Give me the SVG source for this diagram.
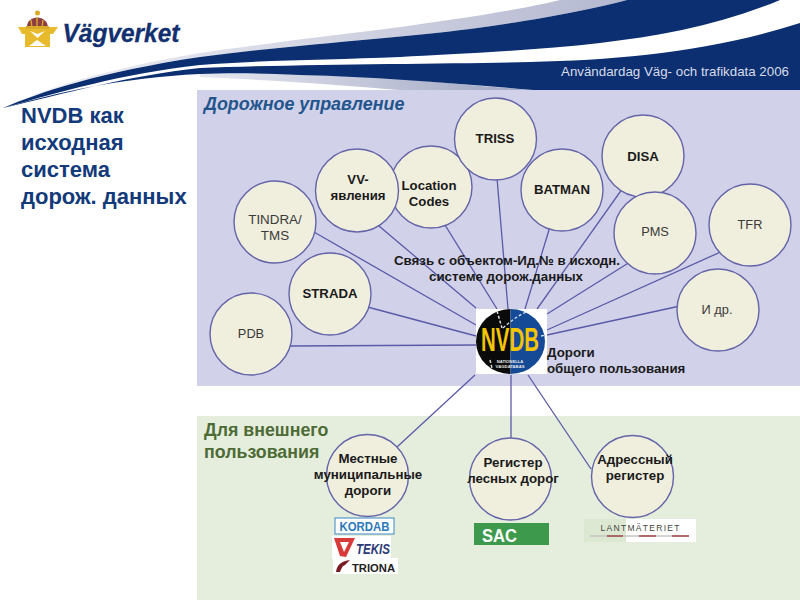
<svg xmlns="http://www.w3.org/2000/svg" width="800" height="600" viewBox="0 0 800 600">
<style>
text{font-family:"Liberation Sans",Arial,sans-serif;text-anchor:middle}
.c{fill:#f0eedd;stroke:#6464a8;stroke-width:1.4}
.e{fill:none;stroke:#5a5aa8;stroke-width:1.3}
.b{font-size:13.2px;font-weight:bold;fill:#1a1a1a}
.n{font-size:12.8px;fill:#3a3a3a}
.s{font-size:13.3px;font-weight:bold;fill:#1a1a1a}
.l{text-anchor:start}
.d{fill:#0b2f70}
</style>
<defs>
<linearGradient id="lb" x1="0" y1="0" x2="1" y2="0"><stop offset="0" stop-color="#f0f1f6"/><stop offset=".5" stop-color="#d4d6e4"/><stop offset="1" stop-color="#b4b8d0"/></linearGradient>
<linearGradient id="sh" x1="0" y1="0" x2="1" y2="0"><stop offset="0" stop-color="#e6e8f0"/><stop offset="1" stop-color="#9ea4c2"/></linearGradient>
</defs>
<rect width="800" height="600" fill="#fff"/>
<g id="banner">
<path d="M3 108C40 90 100 70 200 53C260 44 330 36 400 27C450 20 520 10 560 0H627C590 10 530 21 470 29C400 38 300 44 200 57C100 72 40 92 3 108Z" fill="url(#lb)"/>
<path class="d" d="M3 108C40 92 100 72 200 57C300 44 400 38 470 29C530 21 590 10 627 0H780C720 25 660 36 600 43C530 51 450 54 400 57C330 60 260 60 200 65C120 74 60 92 3 108Z"/>
<path d="M200 74C260 72 300 75 380 77C450 83 500 88 533 90H400C340 85 270 80 200 77Z" fill="url(#sh)"/>
<path class="d" d="M3 108C60 95 130 75 200 68C300 64 450 64 530 62C620 60 710 52 800 23V90H533C450 83 380 77 300 75C260 73 230 73 200 74C120 78 60 92 3 108Z"/>
<text x="675" y="76" style="font-size:13px;fill:#d8dcea" textLength="228" lengthAdjust="spacingAndGlyphs">Användardag Väg- och trafikdata 2006</text>
</g>
<rect x="197" y="90" width="603" height="296" fill="#d1d1e9"/>
<rect x="197" y="416" width="603" height="184" fill="#e5eedd"/>
<g id="logo">
<path d="M18 27H58L53 34H50V47H25V34H22Z" fill="#e8bb2e"/>
<path d="M27 28C26 14 48 14 48 28Z" fill="#8c3c42"/>
<path d="M37 17V28M31 20L32 28M43 20L42 28" stroke="#d8aa28" stroke-width="1.4" fill="none"/>
<circle cx="37.500" cy="13" r="2.500" fill="#d8aa28"/>
<rect x="26" y="26" width="23" height="3" fill="#d8aa28"/>
<path d="M29 46L37 40L46 46Z" fill="#fff"/>
<path d="M30 31L37.500 38L45 31L37.500 34Z" fill="#fff"/>
<text x="121" y="42" style="font-size:25px;font-weight:bold;font-style:italic;fill:#12306f;stroke:#12306f;stroke-width:.3" textLength="117" lengthAdjust="spacingAndGlyphs">Vägverket</text>
</g>
<g id="connectors" class="e">
<line x1="290" y1="346" x2="476" y2="345"/>
<line x1="360" y1="305" x2="476" y2="336"/>
<line x1="300" y1="224" x2="476" y2="325"/>
<line x1="379" y1="226" x2="476" y2="308"/>
<line x1="445" y1="225" x2="497" y2="309"/>
<line x1="497" y1="178" x2="508" y2="309"/>
<line x1="552" y1="220" x2="525" y2="309"/>
<line x1="625" y1="185" x2="537" y2="309"/>
<line x1="630" y1="262" x2="547" y2="314"/>
<line x1="725" y1="250" x2="547" y2="330"/>
<line x1="680" y1="306" x2="547" y2="335"/>
<line x1="475" y1="375" x2="397" y2="447"/>
<line x1="511" y1="375" x2="511" y2="440"/>
<line x1="528" y1="375" x2="591" y2="469"/>
</g>
<g id="tindra"><circle class="c" cx="275" cy="222" r="41"/><text class="n" x="275" y="224" style="font-size:13.4px">TINDRA/</text><text class="n" x="275" y="240" style="font-size:13.4px">TMS</text></g>
<g id="pdb"><circle class="c" cx="251" cy="334" r="41"/><text class="n" x="251" y="338">PDB</text></g>
<g id="strada"><circle class="c" cx="330" cy="294" r="41"/><text class="b" x="330" y="298">STRADA</text></g>
<g id="location"><circle class="c" cx="431" cy="187" r="41"/><text class="b" x="429" y="190">Location</text><text class="b" x="429" y="206">Codes</text></g>
<g id="vv"><circle class="c" cx="357" cy="190.500" r="41.500"/><text class="b" x="358" y="184">VV-</text><text class="b" x="358" y="200">явления</text></g>
<g id="triss"><circle class="c" cx="495.500" cy="139" r="41"/><text class="b" x="495" y="143">TRISS</text></g>
<g id="batman"><circle class="c" cx="562" cy="190" r="41"/><text class="b" x="562" y="194">BATMAN</text></g>
<g id="disa"><circle class="c" cx="643" cy="156" r="41"/><text class="b" x="643" y="161">DISA</text></g>
<g id="pms"><circle class="c" cx="655" cy="233" r="41"/><text class="n" x="655" y="236">PMS</text></g>
<g id="tfr"><circle class="c" cx="750" cy="225" r="41"/><text class="n" x="750" y="229">TFR</text></g>
<g id="other"><circle class="c" cx="718" cy="310" r="41"/><text class="n" x="717" y="314">И др.</text></g>
<g id="nvdb">
<rect x="476" y="309" width="71" height="65" fill="#fff"/>
<path d="M510.500 309A34.500 32.500 0 0 0 510.500 374Z" fill="#0a0a0a"/>
<path d="M510.500 309A34.500 32.500 0 0 1 510.500 374Z" fill="#144a96"/>
<path d="M497 311L502 328M490 360L492 368" stroke="#ddd" stroke-width="1.500" stroke-dasharray="3 2" fill="none"/>
<path d="M503 328C510 322 517 316 526 312M541 336L545 335" stroke="#cfe0f0" stroke-width="1.300" stroke-dasharray="3 2" fill="none"/>
<text transform="translate(510,351) scale(.85,1.35)" x="0" y="0" style="font-size:24px;font-weight:bold;fill:#f5c400">NVDB</text>
<text x="510" y="363" style="font-size:4.200px;font-weight:bold;fill:#e8e8e8">NATIONELLA</text>
<text x="510" y="368" style="font-size:4.200px;font-weight:bold;fill:#e8e8e8">VÄGDATABAS</text>
</g>
<text class="s" x="507" y="265">Связь с объектом-Ид.№ в исходн.</text>
<text class="s" x="506" y="281">системе дорож.данных</text>
<text class="s l" x="547" y="357">Дороги</text>
<text class="s l" x="547" y="373">общего пользования</text>
<text class="l" x="204" y="110" style="font-size:17.900px;font-weight:bold;font-style:italic;fill:#22558c">Дорожное управление</text>
<text class="l" x="204" y="436" style="font-size:17.800px;font-weight:bold;fill:#4d6b35">Для внешнего</text>
<text class="l" x="204" y="458" style="font-size:17.800px;font-weight:bold;fill:#4d6b35">пользования</text>
<g style="font-size:22px;font-weight:bold;fill:#133a7a"><text class="l" x="21" y="123">NVDB как</text><text class="l" x="21" y="150">исходная</text><text class="l" x="21" y="177">система</text><text class="l" x="21" y="204">дорож. данных</text></g>
<g id="local"><circle class="c" cx="367.500" cy="475.500" r="41"/><text class="s" x="368" y="463">Местные</text><text class="s" x="368" y="479">муниципальные</text><text class="s" x="368" y="495">дороги</text></g>
<g id="forest"><circle class="c" cx="510.500" cy="479" r="41"/><text class="s" x="513" y="467">Регистер</text><text class="s" x="513" y="483">лесных дорог</text></g>
<g id="address"><circle class="c" cx="632.500" cy="476.500" r="41"/><text class="s" x="635" y="464">Адрессный</text><text class="s" x="635" y="480">регистер</text></g>
<g id="logos">
<rect x="335" y="518" width="59" height="16" fill="#fff" stroke="#3a86c4" stroke-width="1"/>
<text x="364.500" y="530.500" style="font-size:12px;font-weight:bold;fill:#2a78b8" textLength="50" lengthAdjust="spacingAndGlyphs">KORDAB</text>
<rect x="332" y="536" width="59" height="23" fill="#fff"/>
<path d="M334 538H355L346 557L340 556Z" fill="#d83a3a"/>
<path d="M340 542H349L344 552Z" fill="#fff"/>
<text x="373" y="554" style="font-size:14px;font-weight:bold;font-style:italic;fill:#2c3a76" textLength="34" lengthAdjust="spacingAndGlyphs">TEKIS</text>
<rect x="333" y="558" width="65" height="16" fill="#fff"/>
<path d="M336 572C337 564 342 561 350 560L345 565C342 566 342 568 340 572Z" fill="#7a1a22"/>
<text x="373.500" y="572" style="font-size:10.500px;font-weight:bold;fill:#222" textLength="43" lengthAdjust="spacingAndGlyphs">TRIONA</text>
<rect x="474" y="523" width="75" height="22" fill="#3d9a4c"/>
<text x="499.500" y="542" style="font-size:18px;font-weight:bold;fill:#fff" textLength="35" lengthAdjust="spacingAndGlyphs">SAC</text>
<rect x="584" y="519" width="112" height="23" fill="#fff"/>
<rect x="584" y="519" width="42" height="23" fill="#dde8d2"/>
<text x="640" y="531" style="font-size:8.500px;fill:#444" textLength="79" lengthAdjust="spacing">LANTMÄTERIET</text>
<line x1="590" y1="536" x2="689" y2="536" stroke="#c4c4c4" stroke-width="1.500"/>
<path d="M607 536H623M639 536H656M672 536H689" stroke="#a04848" stroke-width="1.500" fill="none"/>
</g>
</svg>
